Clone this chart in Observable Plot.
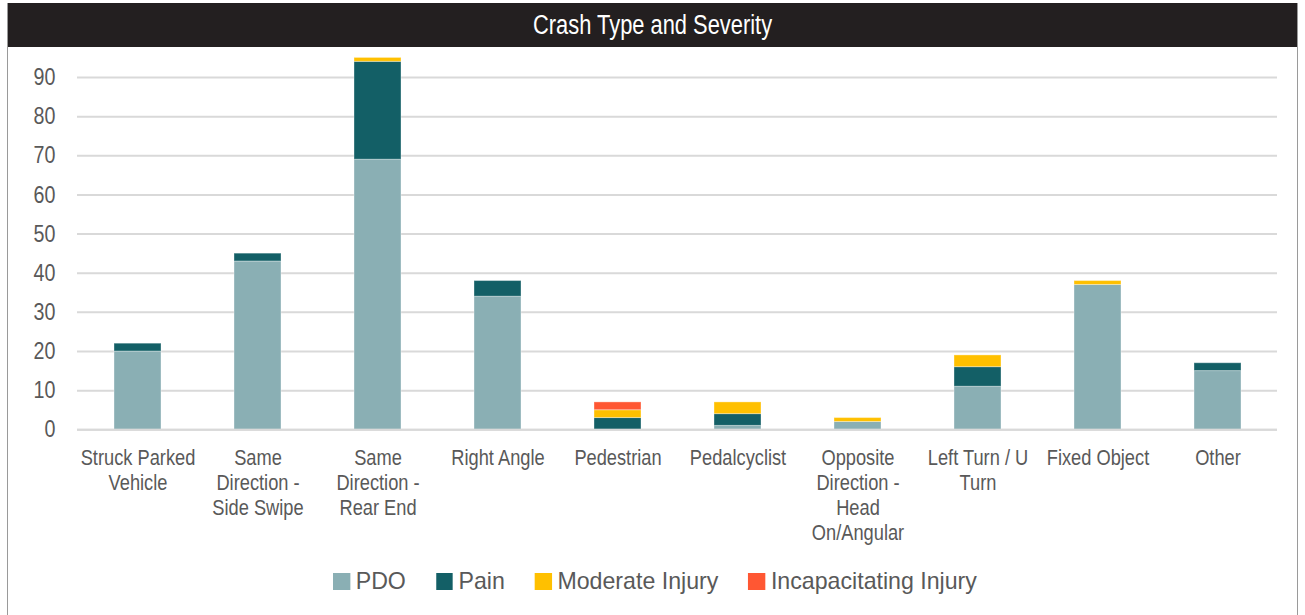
<!DOCTYPE html>
<html>
<head>
<meta charset="utf-8">
<script src="https://cdn.jsdelivr.net/npm/d3@7"></script>
<script src="https://cdn.jsdelivr.net/npm/@observablehq/plot@0.6"></script>
<style>
  body { margin: 0; background: #fff; font-family: "Liberation Sans", Arial, sans-serif; }
  #frame { position: absolute; left: 7px; top: 3px; width: 1291px; height: 640px; border: 1px solid #9a9a9a; border-top: none; box-sizing: border-box; }
  #title { height: 44px; background: #231f20; color: #fff; font-size: 27px; display: flex; align-items: center; justify-content: center; }
  #title span { display: inline-block; transform: scaleX(0.81); white-space: nowrap; }
  #chart { position: absolute; left: 0; top: 44px; }
  #legend { position: absolute; left: 325px; top: 560px; height: 36px; display: flex; align-items: center; gap: 31px; font-size: 24px; color: #595959; white-space: nowrap; transform: scaleX(0.965); transform-origin: left center; }
  .item { display: flex; align-items: center; gap: 6px; }
  .sw { width: 17.5px; height: 17px; display: inline-block; }
</style>
</head>
<body>
<div id="frame">
  <div id="title"><span>Crash Type and Severity</span></div>
  <div id="chart"></div>
  <div id="legend"></div>
</div>
<script>
const categories = ["Struck Parked\nVehicle", "Same\nDirection -\nSide Swipe", "Same\nDirection -\nRear End", "Right Angle", "Pedestrian", "Pedalcyclist", "Opposite\nDirection -\nHead\nOn/Angular", "Left Turn / U\nTurn", "Fixed Object", "Other"];
const severities = ["PDO", "Pain", "Moderate Injury", "Incapacitating Injury"];
const pdo = [20, 43, 69, 34, 0, 1, 2, 11, 37, 15];
const pain = [2, 2, 25, 4, 3, 3, 0, 5, 0, 2];
const moderate = [0, 0, 1, 0, 2, 3, 1, 3, 1, 0];
const incapacitating = [0, 0, 0, 0, 2, 0, 0, 0, 0, 0];
const colors = ["#8aafb4", "#135f66", "#ffc000", "#ff5733"];
const yTicks = [0, 10, 20, 30, 40, 50, 60, 70, 80, 90];

const seriesValues = [pdo, pain, moderate, incapacitating];
const rows = [];
categories.forEach((c, i) => {
  severities.forEach((s, j) => {
    rows.push({category: c, severity: s, value: seriesValues[j][i]});
  });
});

const chart = Plot.plot({
  width: 1289,
  height: 510,
  marginLeft: 69,
  marginRight: 20,
  marginTop: 30,
  marginBottom: 127.7,
  style: {fontFamily: '"Liberation Sans", Arial, sans-serif', fontSize: "22px", color: "#595959", background: "transparent", overflow: "visible"},
  x: {domain: categories, paddingInner: 0.61, paddingOuter: 0.305, label: null},
  y: {domain: [0, 90], label: null},
  color: {domain: severities, range: colors},
  marks: [
    Plot.gridY(yTicks, {stroke: "#d9d9d9", strokeOpacity: 1, strokeWidth: 2}),
    Plot.barY(rows, {x: "category", y: "value", fill: "severity", order: severities, stroke: "#ffffff", strokeOpacity: 0.35, strokeWidth: 1}),
    Plot.ruleY([0], {stroke: "#d9d9d9", strokeWidth: 2}),
    Plot.axisY(yTicks, {tickSize: 0, tickPadding: 22, fontSize: 24, fill: "#595959", label: null}),
    Plot.axisX({tickSize: 0, tickPadding: 17, fontSize: 22, fill: "#595959", lineHeight: 25/22, label: null})
  ]
});
// condense tick label glyphs horizontally around their anchors
chart.querySelectorAll('g[aria-label="x-axis tick label"] text').forEach(t => {
  t.setAttribute("transform", (t.getAttribute("transform") || "") + " scale(0.83,1)");
});
chart.querySelectorAll('g[aria-label="y-axis tick label"] text').forEach(t => {
  t.setAttribute("transform", (t.getAttribute("transform") || "") + " scale(0.82,1)");
});
document.getElementById("chart").appendChild(chart);

const legend = document.getElementById("legend");
severities.forEach((s, i) => {
  const it = document.createElement("div");
  it.className = "item";
  const sw = document.createElement("span");
  sw.className = "sw";
  sw.style.background = colors[i];
  const t = document.createElement("span");
  t.textContent = s;
  it.appendChild(sw); it.appendChild(t);
  legend.appendChild(it);
});
</script>
</body>
</html>
